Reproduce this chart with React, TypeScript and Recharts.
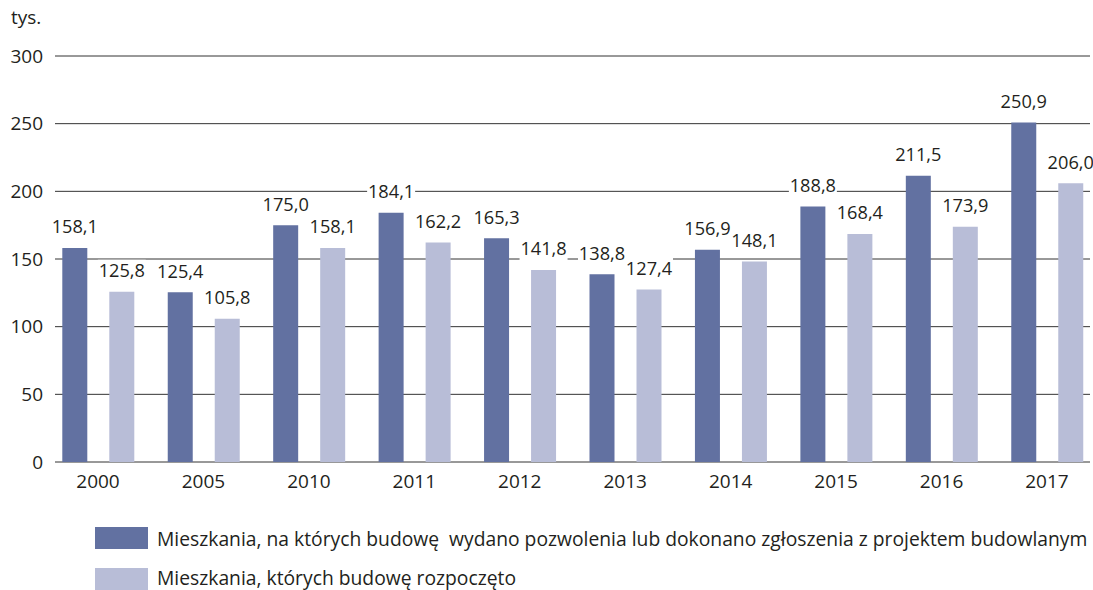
import React from 'react';
import { BarChart, Bar, XAxis, YAxis, CartesianGrid, LabelList } from 'recharts';

const years = ['2000', '2005', '2010', '2011', '2012', '2013', '2014', '2015', '2016', '2017'];
const permits = [158.1, 125.4, 175.0, 184.1, 165.3, 138.8, 156.9, 188.8, 211.5, 250.9];
const started = [125.8, 105.8, 158.1, 162.2, 141.8, 127.4, 148.1, 168.4, 173.9, 206.0];
const yTicks = [0, 50, 100, 150, 200, 250, 300];

const permitsLabel = 'Mieszkania, na których budowę  wydano pozwolenia lub dokonano zgłoszenia z projektem budowlanym';
const startedLabel = 'Mieszkania, których budowę rozpoczęto';
const unitLabel = 'tys.';

const DARK = '#6271a1';
const LIGHT = '#b8bdd7';
const TEXT = '#231f20';
const FONT = '"Open Sans", sans-serif';
const FS = 19;

const data = years.map((y, i) => ({ year: y, permits: permits[i], started: started[i] }));

const fmt = (v: number) => v.toFixed(1).replace('.', ',');

const ValueLabel = (props: any) => {
  const { x, y, width, value } = props;
  const cx = Number(x) + Number(width) / 2;
  const top = Number(y);
  const txt = fmt(Number(value));
  const w = txt.length * 9.2 + 2;
  const cy = top - 21;
  return (
    <g>
      <rect x={cx - w / 2} y={cy - 11} width={w} height={22} fill="#ffffff" />
      <text x={cx} y={top - 14.6} textAnchor="middle" fontFamily={FONT} fontSize={18.2} fill={TEXT}>
        {txt}
      </text>
    </g>
  );
};

export default function App() {
  return (
    <div style={{ position: 'relative', width: 1093, height: 590, background: '#fff', overflow: 'hidden' }}>
      <style>{'html,body{margin:0;padding:0;overflow:hidden;}'}</style>
      <BarChart
        width={1093}
        height={590}
        data={data}
        margin={{ top: 56, right: 3, left: 0, bottom: 88 }}
        barSize={25}
        barGap={22}
      >
        <CartesianGrid vertical={false} stroke="#333" strokeWidth={1} />
        <XAxis
          dataKey="year"
          axisLine={false}
          tickLine={false}
          tickSize={0}
          tickMargin={12.5}
          height={40}
          padding={{ left: -9.7, right: -9.7 }}
          tick={{ fontFamily: FONT, fontSize: FS, fill: TEXT }}
        />
        <YAxis
          domain={[0, 300]}
          ticks={yTicks}
          axisLine={false}
          tickLine={false}
          tickSize={0}
          tickMargin={12}
          width={55}
          tick={{ fontFamily: FONT, fontSize: FS, fill: TEXT }}
        />
        <Bar dataKey="permits" fill={DARK} isAnimationActive={false}>
          <LabelList dataKey="permits" content={ValueLabel} />
        </Bar>
        <Bar dataKey="started" fill={LIGHT} isAnimationActive={false}>
          <LabelList dataKey="started" content={ValueLabel} />
        </Bar>
      </BarChart>
      <svg width={1093} height={590} style={{ position: 'absolute', left: 0, top: 0, pointerEvents: 'none' }}>
        <text x={11} y={24} fontFamily={FONT} fontSize={FS} fill={TEXT}>{unitLabel}</text>
        <rect x={95} y={527} width={53} height={22} fill={DARK} />
        <text x={157} y={546} fontFamily={FONT} fontSize={19.3} fill={TEXT} style={{ whiteSpace: 'pre' }}>{permitsLabel}</text>
        <rect x={95} y={568} width={53} height={22} fill={LIGHT} />
        <text x={157} y={584.5} fontFamily={FONT} fontSize={19.3} fill={TEXT} style={{ whiteSpace: 'pre' }}>{startedLabel}</text>
      </svg>
    </div>
  );
}
